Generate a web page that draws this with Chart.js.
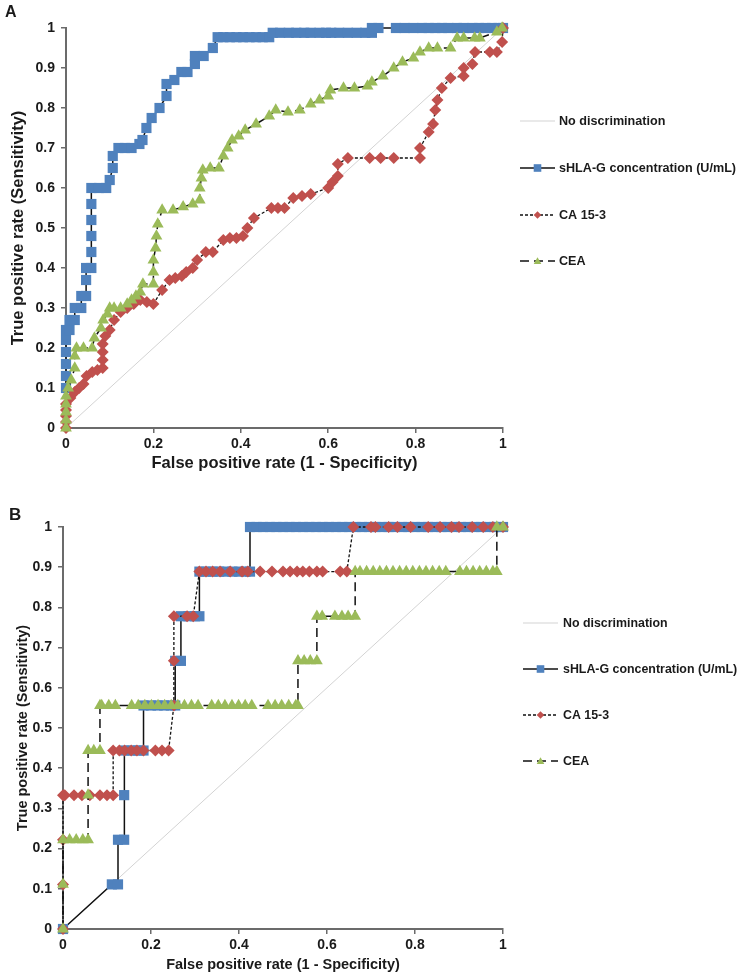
<!DOCTYPE html>
<html>
<head>
<meta charset="utf-8">
<script src="https://cdn.jsdelivr.net/npm/chart.js@4.4.1/dist/chart.umd.min.js"></script>
<style>
  body { margin: 0; background: #fff; }
  #wrap { position: relative; width: 745px; height: 977px; font-family: "Liberation Sans", Arial, sans-serif; }
  canvas { position: absolute; left: 0; }
  #cA { top: 0; }
  #cB { top: 490px; }
  .tag { position: absolute; font-weight: bold; color: #1a1a1a; }
</style>
</head>
<body>
<div id="wrap">
  <canvas id="cA" width="745" height="490"></canvas>
  <canvas id="cB" width="745" height="487"></canvas>
  <div class="tag" style="left:5px;top:3px;font-size:16px;">A</div>
  <div class="tag" style="left:9px;top:505px;font-size:17px;">B</div>
</div>
<script>
// 数据 - 面板 A
const diagX = [0, 1];
const diagY = [0, 1];

const fprA_hlag = [0, 0, 0, 0, 0, 0, 0.008, 0.008, 0.02, 0.02, 0.035, 0.035, 0.046, 0.046, 0.046,
  0.058, 0.058, 0.058, 0.058, 0.058, 0.058, 0.075, 0.092, 0.1, 0.107, 0.107, 0.12, 0.135, 0.15, 0.168,
  0.175, 0.184, 0.196, 0.214, 0.23, 0.23, 0.248, 0.264, 0.278, 0.295, 0.295, 0.315, 0.336, 0.347,
  0.36, 0.375, 0.39, 0.405, 0.42, 0.435, 0.45, 0.465,
  0.473, 0.49, 0.51, 0.527, 0.545, 0.56, 0.58, 0.595, 0.607, 0.625, 0.645, 0.665, 0.685, 0.70,
  0.70, 0.715, 0.755, 0.775, 0.795, 0.815, 0.83, 0.845, 0.86, 0.875, 0.895, 0.91, 0.93, 0.945, 0.96, 0.975, 0.99, 1];
const tprA_hlag = [0.10, 0.13, 0.16, 0.19, 0.22, 0.245, 0.245, 0.27, 0.27, 0.30, 0.30, 0.33, 0.33, 0.37, 0.40,
  0.40, 0.44, 0.48, 0.52, 0.56, 0.60, 0.60, 0.60, 0.62, 0.65, 0.68, 0.70, 0.70, 0.70, 0.71,
  0.72, 0.75, 0.775, 0.80, 0.83, 0.86, 0.87, 0.89, 0.89, 0.91, 0.93, 0.93, 0.95, 0.977,
  0.977, 0.977, 0.977, 0.977, 0.977, 0.977, 0.977, 0.977,
  0.988, 0.988, 0.988, 0.988, 0.988, 0.988, 0.988, 0.988, 0.988, 0.988, 0.988, 0.988, 0.988, 0.988,
  1, 1, 1, 1, 1, 1, 1, 1, 1, 1, 1, 1, 1, 1, 1, 1, 1, 1];

const fprA_ca153 = [0, 0, 0, 0, 0, 0.01, 0.02, 0.03, 0.04, 0.047, 0.06, 0.072, 0.084, 0.084, 0.084, 0.084,
  0.09, 0.1, 0.11, 0.125, 0.14, 0.155, 0.17, 0.185, 0.2, 0.22, 0.237, 0.25, 0.265, 0.275, 0.29, 0.3,
  0.32, 0.336, 0.36, 0.375, 0.39, 0.405, 0.415, 0.43, 0.47, 0.485, 0.5, 0.52, 0.54, 0.56, 0.6, 0.61,
  0.622, 0.622, 0.645, 0.695, 0.72, 0.75, 0.81, 0.81, 0.83, 0.84, 0.845, 0.85, 0.86, 0.88, 0.91, 0.91,
  0.93, 0.936, 0.97, 0.986, 0.998, 1];
const tprA_ca153 = [0, 0.015, 0.03, 0.045, 0.06, 0.075, 0.09, 0.1, 0.11, 0.13, 0.14, 0.145, 0.15, 0.17, 0.19, 0.21,
  0.23, 0.245, 0.27, 0.29, 0.30, 0.31, 0.32, 0.315, 0.31, 0.345, 0.37, 0.375, 0.38, 0.39, 0.40, 0.42,
  0.44, 0.44, 0.47, 0.475, 0.475, 0.48, 0.50, 0.525, 0.55, 0.55, 0.55, 0.575, 0.58, 0.585, 0.60, 0.615,
  0.63, 0.66, 0.675, 0.675, 0.675, 0.675, 0.675, 0.70, 0.74, 0.76, 0.795, 0.82, 0.85, 0.875, 0.88, 0.90,
  0.91, 0.94, 0.94, 0.94, 0.965, 1];

const fprA_cea = [0, 0, 0, 0, 0, 0.005, 0.012, 0.02, 0.02, 0.024, 0.04, 0.06, 0.065, 0.08, 0.085, 0.095,
  0.1, 0.11, 0.125, 0.14, 0.15, 0.16, 0.17, 0.176, 0.2, 0.2, 0.2, 0.205, 0.207, 0.21, 0.22, 0.245, 0.268,
  0.29, 0.306, 0.306, 0.31, 0.313, 0.33, 0.35, 0.36, 0.37, 0.38, 0.395, 0.41, 0.435, 0.465, 0.48, 0.508,
  0.535, 0.56, 0.58, 0.6, 0.605, 0.635, 0.66, 0.69, 0.70, 0.725, 0.75, 0.77, 0.795, 0.81, 0.83, 0.85,
  0.88, 0.895, 0.91, 0.935, 0.947, 0.986, 0.998];
const tprA_cea = [0, 0.02, 0.04, 0.06, 0.08, 0.10, 0.12, 0.15, 0.18, 0.20, 0.20, 0.20, 0.225, 0.25, 0.27, 0.285,
  0.30, 0.30, 0.30, 0.31, 0.32, 0.33, 0.34, 0.36, 0.36, 0.39, 0.42, 0.45, 0.48, 0.51, 0.545, 0.545, 0.553,
  0.56, 0.57, 0.60, 0.625, 0.645, 0.65, 0.65, 0.68, 0.70, 0.72, 0.73, 0.745, 0.76, 0.78, 0.795, 0.79,
  0.795, 0.81, 0.82, 0.83, 0.845, 0.85, 0.85, 0.855, 0.865, 0.88, 0.90, 0.915, 0.925, 0.94, 0.95, 0.95,
  0.95, 0.975, 0.975, 0.975, 0.975, 0.99, 1];

// 数据 - 面板 B
const fprB_hlag = [0, 0.111, 0.125, 0.125, 0.139, 0.139, 0.14, 0.155, 0.17, 0.183, 0.183, 0.2, 0.215, 0.23,
  0.245, 0.255, 0.255, 0.268, 0.268, 0.285, 0.3, 0.31, 0.31, 0.325, 0.34, 0.355, 0.37, 0.385, 0.4, 0.415,
  0.425, 0.425, 0.44, 0.455, 0.47, 0.485, 0.5, 0.515, 0.53, 0.545, 0.56, 0.575, 0.59, 0.605, 0.62, 0.635,
  0.65, 0.665, 0.68, 0.695, 0.71, 0.725, 0.74, 0.755, 0.77, 0.785, 0.8, 0.815, 0.83, 0.845, 0.86, 0.875,
  0.89, 0.905, 0.92, 0.935, 0.95, 0.965, 0.98, 0.99, 1];
const tprB_hlag = [0, 0.111, 0.111, 0.222, 0.222, 0.333, 0.444, 0.444, 0.444, 0.444, 0.556, 0.556, 0.556, 0.556,
  0.556, 0.556, 0.667, 0.667, 0.778, 0.778, 0.778, 0.778, 0.889, 0.889, 0.889, 0.889, 0.889, 0.889, 0.889, 0.889,
  0.889, 1, 1, 1, 1, 1, 1, 1, 1, 1, 1, 1, 1, 1, 1, 1,
  1, 1, 1, 1, 1, 1, 1, 1, 1, 1, 1, 1, 1, 1, 1, 1,
  1, 1, 1, 1, 1, 1, 1, 1, 1];

const fprB_ca153 = [0, 0, 0, 0, 0.004, 0.025, 0.043, 0.061, 0.084, 0.1, 0.114, 0.114, 0.128, 0.14, 0.155,
  0.168, 0.183, 0.21, 0.225, 0.24, 0.252, 0.252, 0.252, 0.282, 0.296, 0.31, 0.325, 0.34, 0.357, 0.38, 0.407,
  0.42, 0.448, 0.475, 0.5, 0.516, 0.532, 0.545, 0.56, 0.577, 0.59, 0.63, 0.645, 0.66, 0.70, 0.71, 0.74,
  0.76, 0.79, 0.83, 0.857, 0.883, 0.9, 0.93, 0.955, 0.977, 1];
const tprB_ca153 = [0, 0.111, 0.222, 0.333, 0.333, 0.333, 0.333, 0.333, 0.333, 0.333, 0.333, 0.444, 0.444, 0.444, 0.444,
  0.444, 0.444, 0.444, 0.444, 0.444, 0.556, 0.667, 0.778, 0.778, 0.778, 0.889, 0.889, 0.889, 0.889, 0.889, 0.889,
  0.889, 0.889, 0.889, 0.889, 0.889, 0.889, 0.889, 0.889, 0.889, 0.889, 0.889, 0.889, 1, 1, 1, 1,
  1, 1, 1, 1, 1, 1, 1, 1, 1, 1];

const fprB_cea = [0, 0, 0, 0.015, 0.03, 0.045, 0.057, 0.057, 0.057, 0.07, 0.084, 0.084, 0.088, 0.104, 0.119,
  0.156, 0.171, 0.186, 0.201, 0.216, 0.231, 0.246, 0.261, 0.276, 0.292, 0.307,
  0.338, 0.353, 0.368, 0.384, 0.399, 0.414, 0.429, 0.466, 0.482, 0.497, 0.513, 0.529, 0.534,
  0.534, 0.548, 0.562, 0.577, 0.577, 0.589, 0.618, 0.634, 0.648, 0.664, 0.664,
  0.675, 0.69, 0.705, 0.72, 0.735, 0.75, 0.765, 0.78, 0.795, 0.81, 0.825, 0.84, 0.855, 0.87,
  0.902, 0.917, 0.932, 0.947, 0.962, 0.977, 0.986, 0.986, 1];
const tprB_cea = [0, 0.111, 0.222, 0.222, 0.222, 0.222, 0.222, 0.333, 0.444, 0.444, 0.444, 0.556, 0.556, 0.556, 0.556,
  0.556, 0.556, 0.556, 0.556, 0.556, 0.556, 0.556, 0.556, 0.556, 0.556, 0.556,
  0.556, 0.556, 0.556, 0.556, 0.556, 0.556, 0.556, 0.556, 0.556, 0.556, 0.556, 0.556, 0.556,
  0.667, 0.667, 0.667, 0.667, 0.778, 0.778, 0.778, 0.778, 0.778, 0.778, 0.889,
  0.889, 0.889, 0.889, 0.889, 0.889, 0.889, 0.889, 0.889, 0.889, 0.889, 0.889, 0.889, 0.889, 0.889,
  0.889, 0.889, 0.889, 0.889, 0.889, 0.889, 0.889, 1, 1];

const seriesLabels = ['No discrimination', 'sHLA-G concentration (U/mL)', 'CA 15-3', 'CEA'];
const xTitle = 'False positive rate (1 - Specificity)';
const yTitle = 'True positive rate (Sensitivity)';

const FONT = '"Liberation Sans", Arial, sans-serif';
const TEXT = '#1a1a1a';
const AXIS = '#6b6b6b';

function pairs(xs, ys) {
    return xs.map((x, i) => ({ x: x, y: ys[i] }));
}

// 画图例里的小标记
function drawMarker(ctx, style, x, y, r, color) {
    ctx.fillStyle = color;
    ctx.beginPath();
    if (style === 'rect') {
        ctx.rect(x - r, y - r, 2 * r, 2 * r);
    } else if (style === 'rectRot') {
        ctx.moveTo(x, y - r); ctx.lineTo(x + r, y); ctx.lineTo(x, y + r); ctx.lineTo(x - r, y);
        ctx.closePath();
    } else if (style === 'triangle') {
        ctx.moveTo(x, y - r); ctx.lineTo(x + r, y + r * 0.8); ctx.lineTo(x - r, y + r * 0.8);
        ctx.closePath();
    }
    ctx.fill();
}

// 右侧图例
const sideLegend = {
    id: 'sideLegend',
    afterDraw(chart, args, opts) {
        const ctx = chart.ctx;
        const x0 = chart.chartArea.right + opts.dx;
        ctx.save();
        chart.data.datasets.forEach((ds, i) => {
            const y = opts.rows[i];
            ctx.beginPath();
            ctx.setLineDash(ds.borderDash || []);
            ctx.strokeStyle = ds.borderColor;
            ctx.lineWidth = ds.borderWidth;
            ctx.moveTo(x0, y);
            ctx.lineTo(x0 + 35, y);
            ctx.stroke();
            ctx.setLineDash([]);
            if (ds.pointRadius > 0) {
                drawMarker(ctx, ds.pointStyle, x0 + 17.5, y, 3.8, ds.pointBackgroundColor);
            }
            ctx.fillStyle = TEXT;
            ctx.font = 'bold ' + opts.fontSize + 'px ' + FONT;
            ctx.textBaseline = 'middle';
            ctx.fillText(ds.label, x0 + opts.textGap, y + 1);
        });
        ctx.restore();
    }
};

function makeDatasets(hx, hy, cx, cy, ex, ey) {
    return [
        {
            label: seriesLabels[0], data: pairs(diagX, diagY),
            borderColor: '#d3d3d3', borderWidth: 1, pointRadius: 0, order: 3
        },
        {
            label: seriesLabels[1], data: pairs(hx, hy),
            borderColor: '#111', borderWidth: 1.5,
            pointStyle: 'rect', pointRadius: 7.2, pointBorderWidth: 0,
            pointBackgroundColor: '#4F81BD', order: 2
        },
        {
            label: seriesLabels[2], data: pairs(cx, cy),
            borderColor: '#111', borderWidth: 1.3, borderDash: [3, 2],
            pointStyle: 'rectRot', pointRadius: 6, pointBorderWidth: 0,
            pointBackgroundColor: '#C0504D', order: 1
        },
        {
            label: seriesLabels[3], data: pairs(ex, ey),
            borderColor: '#111', borderWidth: 1.5, borderDash: [9, 5],
            pointStyle: 'triangle', pointRadius: 6.8, pointBorderWidth: 0,
            pointBackgroundColor: '#9BBB59', order: 0
        }
    ];
}

function createRoc(canvasId, datasets, cfg) {
    datasets.forEach(ds => { ds.clip = false; ds.tension = 0; ds.fill = false; });
    const tickFont = { family: FONT, size: 14, weight: 'bold' };
    const titleFont = { family: FONT, size: cfg.titleSize, weight: 'bold' };
    return new Chart(document.getElementById(canvasId), {
        type: 'line',
        data: { datasets: datasets },
        options: {
            responsive: false,
            animation: false,
            events: [],
            layout: { padding: { left: 0, right: cfg.right, top: cfg.top, bottom: 0 } },
            plugins: {
                legend: { display: false },
                tooltip: { enabled: false },
                sideLegend: cfg.legend
            },
            scales: {
                x: {
                    type: 'linear', min: 0, max: 1,
                    ticks: { stepSize: 0.2, padding: 3, color: TEXT, font: tickFont, maxRotation: 0,
                             callback: v => String(+v.toFixed(1)) },
                    grid: { drawOnChartArea: false, drawTicks: true, tickLength: 5, color: AXIS, lineWidth: 1.5 },
                    border: { color: AXIS, width: 2 },
                    title: { display: true, text: xTitle, color: TEXT, font: titleFont,
                             padding: { top: 0, bottom: cfg.xTitlePad } },
                    afterFit: s => { s.height = cfg.xHeight; }
                },
                y: {
                    type: 'linear', min: 0, max: 1,
                    ticks: { stepSize: 0.1, padding: 6, color: TEXT, font: tickFont,
                             callback: v => String(+v.toFixed(1)) },
                    grid: { drawOnChartArea: false, drawTicks: true, tickLength: 5, color: AXIS, lineWidth: 1.5 },
                    border: { color: AXIS, width: 2 },
                    title: { display: true, text: yTitle, color: TEXT, font: titleFont,
                             padding: { top: cfg.yTitlePad, bottom: 0 } },
                    afterFit: s => { s.width = cfg.yWidth; }
                }
            }
        },
        plugins: [sideLegend]
    });
}

const chartA = createRoc('cA',
    makeDatasets(fprA_hlag, tprA_hlag, fprA_ca153, tprA_ca153, fprA_cea, tprA_cea),
    { right: 242, top: 28, xHeight: 62, yWidth: 66, titleSize: 16.5, xTitlePad: 17, yTitlePad: 9,
      legend: { dx: 17, textGap: 39, fontSize: 12.6, rows: [121, 168, 215, 261] } });

const chartB = createRoc('cB',
    makeDatasets(fprB_hlag, tprB_hlag, fprB_ca153, tprB_ca153, fprB_cea, tprB_cea),
    { right: 242, top: 37, xHeight: 48, yWidth: 63, titleSize: 14.5, xTitlePad: 3.3, yTitlePad: 14,
      legend: { dx: 20, textGap: 40, fontSize: 12.4, rows: [133, 179, 225, 271] } });
</script>
</body>
</html>
